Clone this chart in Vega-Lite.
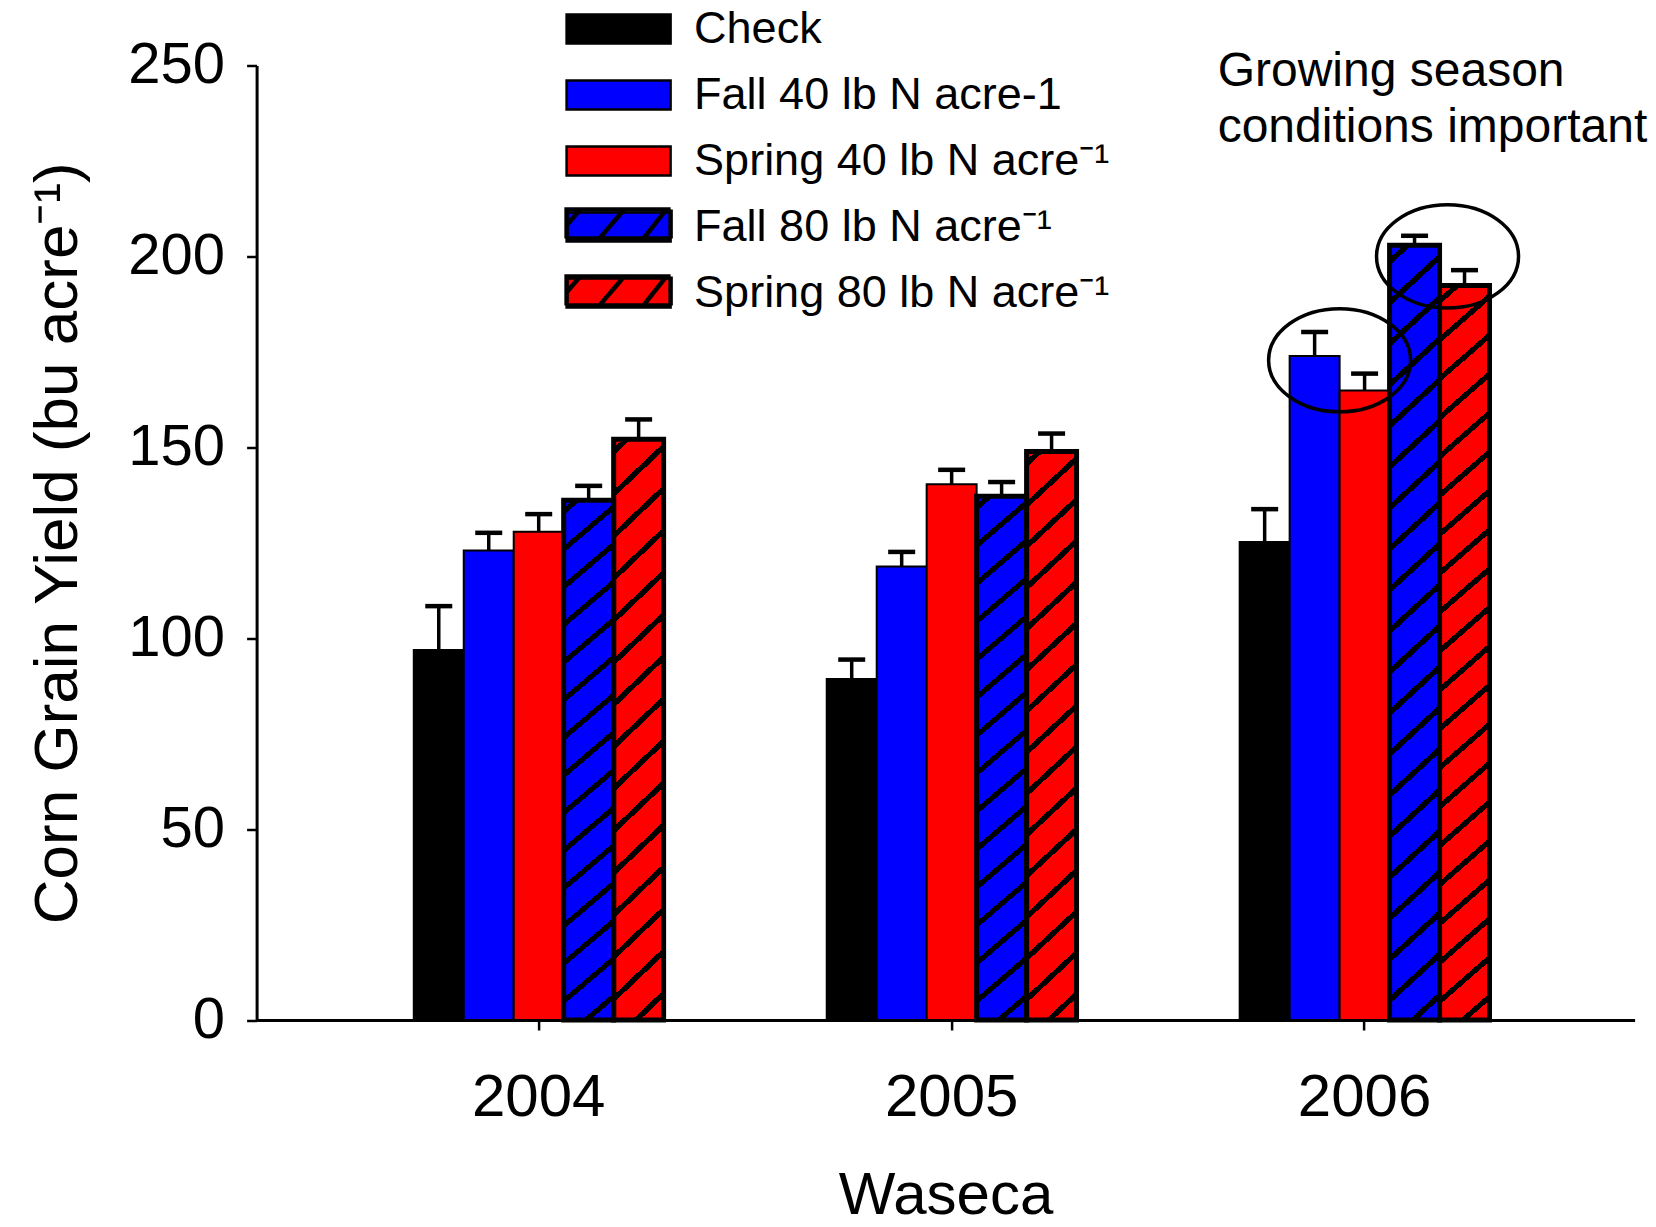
{
  "$schema": "https://vega.github.io/schema/vega-lite/v6.json",
  "width": 1378,
  "height": 954.5,
  "autosize": {"type": "none"},
  "padding": {"left": 256.6, "top": 65.5, "right": 21.4, "bottom": 207},
  "background": "white",
  "config": {
    "view": {"stroke": null},
    "font": "Liberation Sans",
    "axis": {"grid": false, "domainColor": "black", "tickColor": "black", "labelColor": "black", "titleColor": "black", "titleFontWeight": "normal", "labelFont": "Liberation Sans", "titleFont": "Liberation Sans"},
    "legend": {"labelFont": "Liberation Sans"}
  },
  "datasets": {
    "yield": [
      {"year": "2004", "treatment": "Check", "yield": 96.9, "upper": 108.4},
      {"year": "2004", "treatment": "Fall 40 lb N acre-1", "yield": 123.0, "upper": 127.6},
      {"year": "2004", "treatment": "Spring 40 lb N acre\u207b\u00b9", "yield": 127.9, "upper": 132.5},
      {"year": "2004", "treatment": "Fall 80 lb N acre\u207b\u00b9", "yield": 136.1, "upper": 139.9},
      {"year": "2004", "treatment": "Spring 80 lb N acre\u207b\u00b9", "yield": 152.1, "upper": 157.3},
      {"year": "2005", "treatment": "Check", "yield": 89.3, "upper": 94.4},
      {"year": "2005", "treatment": "Fall 40 lb N acre-1", "yield": 118.8, "upper": 122.6},
      {"year": "2005", "treatment": "Spring 40 lb N acre\u207b\u00b9", "yield": 140.3, "upper": 144.1},
      {"year": "2005", "treatment": "Fall 80 lb N acre\u207b\u00b9", "yield": 137.2, "upper": 140.9},
      {"year": "2005", "treatment": "Spring 80 lb N acre\u207b\u00b9", "yield": 148.9, "upper": 153.6},
      {"year": "2006", "treatment": "Check", "yield": 125.2, "upper": 133.8},
      {"year": "2006", "treatment": "Fall 40 lb N acre-1", "yield": 173.9, "upper": 180.2},
      {"year": "2006", "treatment": "Spring 40 lb N acre\u207b\u00b9", "yield": 164.9, "upper": 169.3},
      {"year": "2006", "treatment": "Fall 80 lb N acre\u207b\u00b9", "yield": 202.9, "upper": 205.4},
      {"year": "2006", "treatment": "Spring 80 lb N acre\u207b\u00b9", "yield": 192.4, "upper": 196.4}
    ],
    "circle40": [
      {"year": "2006", "around": "Fall 40 and Spring 40", "yield": 172.8}
    ],
    "circle80": [
      {"year": "2006", "around": "Fall 80 and Spring 80", "yield": 200.0}
    ],
    "note": [
      {"year": "2006", "yield": 244.5, "label": "Growing season\nconditions important"}
    ]
  },
  "layer": [
    {
      "data": {"name": "yield"},
      "mark": {"type": "bar", "strokeWidth": 2, "fillOpacity": 1},
      "encoding": {
        "x": {
          "field": "year", "type": "nominal", "title": "Waseca",
          "scale": {"domain": ["2004", "2005", "2006"], "paddingInner": 0.395, "paddingOuter": 0.366, "align": 0.52},
          "axis": {"labelAngle": 0, "labelFontSize": 60, "titleFontSize": 60, "tickSize": 10, "tickWidth": 2.5, "domainWidth": 3, "labelPadding": 38, "titlePadding": 39}
        },
        "xOffset": {
          "field": "treatment", "type": "nominal",
          "scale": {"domain": ["Check", "Fall 40 lb N acre-1", "Spring 40 lb N acre\u207b\u00b9", "Fall 80 lb N acre\u207b\u00b9", "Spring 80 lb N acre\u207b\u00b9"], "paddingInner": 0, "paddingOuter": 0}
        },
        "y": {
          "field": "yield", "type": "quantitative", "title": "Corn Grain Yield (bu acre\u207b\u00b9)",
          "scale": {"domain": [0, 250], "nice": false, "zero": true},
          "axis": {"values": [0, 50, 100, 150, 200, 250], "labelFontSize": 58, "titleFontSize": 62, "tickSize": 10, "tickWidth": 2.5, "domainWidth": 3, "labelPadding": 22, "titlePadding": 38, "labelFlush": false}
        },
        "stroke": {
          "field": "treatment", "type": "nominal",
          "scale": {"domain": ["Check", "Fall 40 lb N acre-1", "Spring 40 lb N acre\u207b\u00b9", "Fall 80 lb N acre\u207b\u00b9", "Spring 80 lb N acre\u207b\u00b9"], "range": ["black", "black", "black", "black", "black"]}
        },
        "fill": {
          "field": "treatment", "type": "nominal",
          "scale": {"domain": ["Check", "Fall 40 lb N acre-1", "Spring 40 lb N acre\u207b\u00b9", "Fall 80 lb N acre\u207b\u00b9", "Spring 80 lb N acre\u207b\u00b9"], "range": ["#000000", "#0000ff", "#ff0000", "#0000ff", "#ff0000"]},
          "legend": {
            "title": null, "orient": "none", "legendX": 339.5, "legendY": -59, "padding": 0,
            "symbolType": "M-2.6,-0.725H2.6V0.725H-2.6Z", "symbolSize": 1600,
            "symbolStrokeWidth": 2.5, "symbolOpacity": 1,
            "labelFontSize": 45, "labelColor": "black", "labelLimit": 800, "labelOffset": 53, "rowPadding": 20
          }
        }
      }
    },
    {
      "data": {"name": "yield"},
      "transform": [{"filter": "indexof(datum.treatment, '80 lb') >= 0 && datum.year != '2006'"}],
      "mark": {"type": "bar", "stroke": "black", "strokeWidth": 5, "fill": {"gradient": "linear", "x1": 0, "y1": 0, "x2": 0.0878, "y2": 1.0745, "stops": [
        {"offset": 0, "color": "rgba(0,0,0,0)"},
        {"offset": 0.014, "color": "rgba(0,0,0,0)"}, {"offset": 0.014, "color": "black"}, {"offset": 0.026, "color": "black"}, {"offset": 0.026, "color": "rgba(0,0,0,0)"},
        {"offset": 0.081, "color": "rgba(0,0,0,0)"}, {"offset": 0.081, "color": "black"}, {"offset": 0.093, "color": "black"}, {"offset": 0.093, "color": "rgba(0,0,0,0)"},
        {"offset": 0.148, "color": "rgba(0,0,0,0)"}, {"offset": 0.148, "color": "black"}, {"offset": 0.160, "color": "black"}, {"offset": 0.160, "color": "rgba(0,0,0,0)"},
        {"offset": 0.215, "color": "rgba(0,0,0,0)"}, {"offset": 0.215, "color": "black"}, {"offset": 0.227, "color": "black"}, {"offset": 0.227, "color": "rgba(0,0,0,0)"},
        {"offset": 0.282, "color": "rgba(0,0,0,0)"}, {"offset": 0.282, "color": "black"}, {"offset": 0.294, "color": "black"}, {"offset": 0.294, "color": "rgba(0,0,0,0)"},
        {"offset": 0.349, "color": "rgba(0,0,0,0)"}, {"offset": 0.349, "color": "black"}, {"offset": 0.361, "color": "black"}, {"offset": 0.361, "color": "rgba(0,0,0,0)"},
        {"offset": 0.416, "color": "rgba(0,0,0,0)"}, {"offset": 0.416, "color": "black"}, {"offset": 0.428, "color": "black"}, {"offset": 0.428, "color": "rgba(0,0,0,0)"},
        {"offset": 0.483, "color": "rgba(0,0,0,0)"}, {"offset": 0.483, "color": "black"}, {"offset": 0.495, "color": "black"}, {"offset": 0.495, "color": "rgba(0,0,0,0)"},
        {"offset": 0.550, "color": "rgba(0,0,0,0)"}, {"offset": 0.550, "color": "black"}, {"offset": 0.562, "color": "black"}, {"offset": 0.562, "color": "rgba(0,0,0,0)"},
        {"offset": 0.617, "color": "rgba(0,0,0,0)"}, {"offset": 0.617, "color": "black"}, {"offset": 0.629, "color": "black"}, {"offset": 0.629, "color": "rgba(0,0,0,0)"},
        {"offset": 0.684, "color": "rgba(0,0,0,0)"}, {"offset": 0.684, "color": "black"}, {"offset": 0.696, "color": "black"}, {"offset": 0.696, "color": "rgba(0,0,0,0)"},
        {"offset": 0.751, "color": "rgba(0,0,0,0)"}, {"offset": 0.751, "color": "black"}, {"offset": 0.763, "color": "black"}, {"offset": 0.763, "color": "rgba(0,0,0,0)"},
        {"offset": 0.818, "color": "rgba(0,0,0,0)"}, {"offset": 0.818, "color": "black"}, {"offset": 0.830, "color": "black"}, {"offset": 0.830, "color": "rgba(0,0,0,0)"},
        {"offset": 0.885, "color": "rgba(0,0,0,0)"}, {"offset": 0.885, "color": "black"}, {"offset": 0.897, "color": "black"}, {"offset": 0.897, "color": "rgba(0,0,0,0)"},
        {"offset": 0.952, "color": "rgba(0,0,0,0)"}, {"offset": 0.952, "color": "black"}, {"offset": 0.964, "color": "black"}, {"offset": 0.964, "color": "rgba(0,0,0,0)"},
        {"offset": 1, "color": "rgba(0,0,0,0)"}]}},
      "encoding": {
        "x": {"field": "year", "type": "nominal"},
        "xOffset": {"field": "treatment", "type": "nominal"},
        "y": {"field": "yield", "type": "quantitative"}
      }
    },
    {
      "data": {"name": "yield"},
      "transform": [{"filter": "indexof(datum.treatment, '80 lb') >= 0 && datum.year == '2006'"}],
      "mark": {"type": "bar", "stroke": "black", "strokeWidth": 5, "fill": {"gradient": "linear", "x1": 0, "y1": 0, "x2": 0.0627, "y2": 1.0557, "stops": [
        {"offset": 0, "color": "rgba(0,0,0,0)"},
        {"offset": 0.0155, "color": "rgba(0,0,0,0)"}, {"offset": 0.0155, "color": "black"}, {"offset": 0.0245, "color": "black"}, {"offset": 0.0245, "color": "rgba(0,0,0,0)"},
        {"offset": 0.0655, "color": "rgba(0,0,0,0)"}, {"offset": 0.0655, "color": "black"}, {"offset": 0.0745, "color": "black"}, {"offset": 0.0745, "color": "rgba(0,0,0,0)"},
        {"offset": 0.1155, "color": "rgba(0,0,0,0)"}, {"offset": 0.1155, "color": "black"}, {"offset": 0.1245, "color": "black"}, {"offset": 0.1245, "color": "rgba(0,0,0,0)"},
        {"offset": 0.1655, "color": "rgba(0,0,0,0)"}, {"offset": 0.1655, "color": "black"}, {"offset": 0.1745, "color": "black"}, {"offset": 0.1745, "color": "rgba(0,0,0,0)"},
        {"offset": 0.2155, "color": "rgba(0,0,0,0)"}, {"offset": 0.2155, "color": "black"}, {"offset": 0.2245, "color": "black"}, {"offset": 0.2245, "color": "rgba(0,0,0,0)"},
        {"offset": 0.2655, "color": "rgba(0,0,0,0)"}, {"offset": 0.2655, "color": "black"}, {"offset": 0.2745, "color": "black"}, {"offset": 0.2745, "color": "rgba(0,0,0,0)"},
        {"offset": 0.3155, "color": "rgba(0,0,0,0)"}, {"offset": 0.3155, "color": "black"}, {"offset": 0.3245, "color": "black"}, {"offset": 0.3245, "color": "rgba(0,0,0,0)"},
        {"offset": 0.3655, "color": "rgba(0,0,0,0)"}, {"offset": 0.3655, "color": "black"}, {"offset": 0.3745, "color": "black"}, {"offset": 0.3745, "color": "rgba(0,0,0,0)"},
        {"offset": 0.4155, "color": "rgba(0,0,0,0)"}, {"offset": 0.4155, "color": "black"}, {"offset": 0.4245, "color": "black"}, {"offset": 0.4245, "color": "rgba(0,0,0,0)"},
        {"offset": 0.4655, "color": "rgba(0,0,0,0)"}, {"offset": 0.4655, "color": "black"}, {"offset": 0.4745, "color": "black"}, {"offset": 0.4745, "color": "rgba(0,0,0,0)"},
        {"offset": 0.5155, "color": "rgba(0,0,0,0)"}, {"offset": 0.5155, "color": "black"}, {"offset": 0.5245, "color": "black"}, {"offset": 0.5245, "color": "rgba(0,0,0,0)"},
        {"offset": 0.5655, "color": "rgba(0,0,0,0)"}, {"offset": 0.5655, "color": "black"}, {"offset": 0.5745, "color": "black"}, {"offset": 0.5745, "color": "rgba(0,0,0,0)"},
        {"offset": 0.6155, "color": "rgba(0,0,0,0)"}, {"offset": 0.6155, "color": "black"}, {"offset": 0.6245, "color": "black"}, {"offset": 0.6245, "color": "rgba(0,0,0,0)"},
        {"offset": 0.6655, "color": "rgba(0,0,0,0)"}, {"offset": 0.6655, "color": "black"}, {"offset": 0.6745, "color": "black"}, {"offset": 0.6745, "color": "rgba(0,0,0,0)"},
        {"offset": 0.7155, "color": "rgba(0,0,0,0)"}, {"offset": 0.7155, "color": "black"}, {"offset": 0.7245, "color": "black"}, {"offset": 0.7245, "color": "rgba(0,0,0,0)"},
        {"offset": 0.7655, "color": "rgba(0,0,0,0)"}, {"offset": 0.7655, "color": "black"}, {"offset": 0.7745, "color": "black"}, {"offset": 0.7745, "color": "rgba(0,0,0,0)"},
        {"offset": 0.8155, "color": "rgba(0,0,0,0)"}, {"offset": 0.8155, "color": "black"}, {"offset": 0.8245, "color": "black"}, {"offset": 0.8245, "color": "rgba(0,0,0,0)"},
        {"offset": 0.8655, "color": "rgba(0,0,0,0)"}, {"offset": 0.8655, "color": "black"}, {"offset": 0.8745, "color": "black"}, {"offset": 0.8745, "color": "rgba(0,0,0,0)"},
        {"offset": 0.9155, "color": "rgba(0,0,0,0)"}, {"offset": 0.9155, "color": "black"}, {"offset": 0.9245, "color": "black"}, {"offset": 0.9245, "color": "rgba(0,0,0,0)"},
        {"offset": 0.9655, "color": "rgba(0,0,0,0)"}, {"offset": 0.9655, "color": "black"}, {"offset": 0.9745, "color": "black"}, {"offset": 0.9745, "color": "rgba(0,0,0,0)"},
        {"offset": 1, "color": "rgba(0,0,0,0)"}]}},
      "encoding": {
        "x": {"field": "year", "type": "nominal"},
        "xOffset": {"field": "treatment", "type": "nominal"},
        "y": {"field": "yield", "type": "quantitative"}
      }
    },
    {
      "data": {"name": "yield"},
      "transform": [{"filter": "indexof(datum.treatment, '80 lb') < 0"}],
      "mark": {"type": "rule", "color": "black", "strokeWidth": 3.5},
      "encoding": {
        "x": {"field": "year", "type": "nominal"},
        "xOffset": {"field": "treatment", "type": "nominal"},
        "y": {"field": "yield", "type": "quantitative"},
        "y2": {"field": "upper"}
      }
    },
    {
      "data": {"name": "yield"},
      "transform": [{"filter": "indexof(datum.treatment, '80 lb') >= 0"}],
      "mark": {"type": "rule", "color": "black", "strokeWidth": 3.5},
      "encoding": {
        "x": {"field": "year", "type": "nominal"},
        "xOffset": {"field": "treatment", "type": "nominal"},
        "y": {"field": "yield", "type": "quantitative"},
        "y2": {"field": "upper"},
        "strokeDash": {
          "field": "treatment", "type": "nominal",
          "scale": {"domain": ["Fall 80 lb N acre\u207b\u00b9", "Spring 80 lb N acre\u207b\u00b9"], "range": [[1, 0], [1, 0]]},
          "legend": {
            "title": null, "orient": "none", "legendX": 339.5, "legendY": 136, "padding": 0,
            "symbolType": "M-2.6,-0.725H2.6V0.725H-2.6ZM-2.6,0.07L-1.92,-0.725M-0.96,0.725L0.28,-0.725M1.24,0.725L2.385,-0.725",
            "symbolSize": 1600, "symbolFillColor": "transparent", "symbolStrokeColor": "black", "symbolStrokeWidth": 4.5, "symbolOpacity": 1,
            "labelFontSize": 45, "labelExpr": "' '", "labelOffset": 53, "rowPadding": 20
          }
        }
      }
    },
    {
      "data": {"name": "yield"},
      "mark": {"type": "tick", "color": "black", "size": 27, "thickness": 4.5, "opacity": 1},
      "encoding": {
        "x": {"field": "year", "type": "nominal"},
        "xOffset": {"field": "treatment", "type": "nominal"},
        "y": {"field": "upper", "type": "quantitative"}
      }
    },
    {
      "data": {"name": "circle40"},
      "mark": {"type": "point", "shape": "M1,0C1,0.4015,0.5523,0.727,0,0.727C-0.5523,0.727,-1,0.4015,-1,0C-1,-0.4015,-0.5523,-0.727,0,-0.727C0.5523,-0.727,1,-0.4015,1,0Z", "size": 20164, "filled": false, "stroke": "black", "strokeWidth": 3.5, "opacity": 1},
      "encoding": {
        "x": {"field": "year", "type": "nominal", "bandPosition": 0.4},
        "y": {"field": "yield", "type": "quantitative"}
      }
    },
    {
      "data": {"name": "circle80"},
      "mark": {"type": "point", "shape": "M1,0C1,0.4015,0.5523,0.727,0,0.727C-0.5523,0.727,-1,0.4015,-1,0C-1,-0.4015,-0.5523,-0.727,0,-0.727C0.5523,-0.727,1,-0.4015,1,0Z", "size": 20164, "filled": false, "stroke": "black", "strokeWidth": 3.5, "opacity": 1},
      "encoding": {
        "x": {"field": "year", "type": "nominal", "bandPosition": 0.832},
        "y": {"field": "yield", "type": "quantitative"}
      }
    },
    {
      "data": {"name": "note"},
      "mark": {"type": "text", "align": "left", "baseline": "alphabetic", "fontSize": 48, "lineHeight": 56, "lineBreak": "\n", "dx": -22, "color": "black", "font": "Liberation Sans"},
      "encoding": {
        "x": {"field": "year", "type": "nominal", "bandPosition": 0},
        "y": {"field": "yield", "type": "quantitative"},
        "text": {"field": "label"}
      }
    }
  ]
}
